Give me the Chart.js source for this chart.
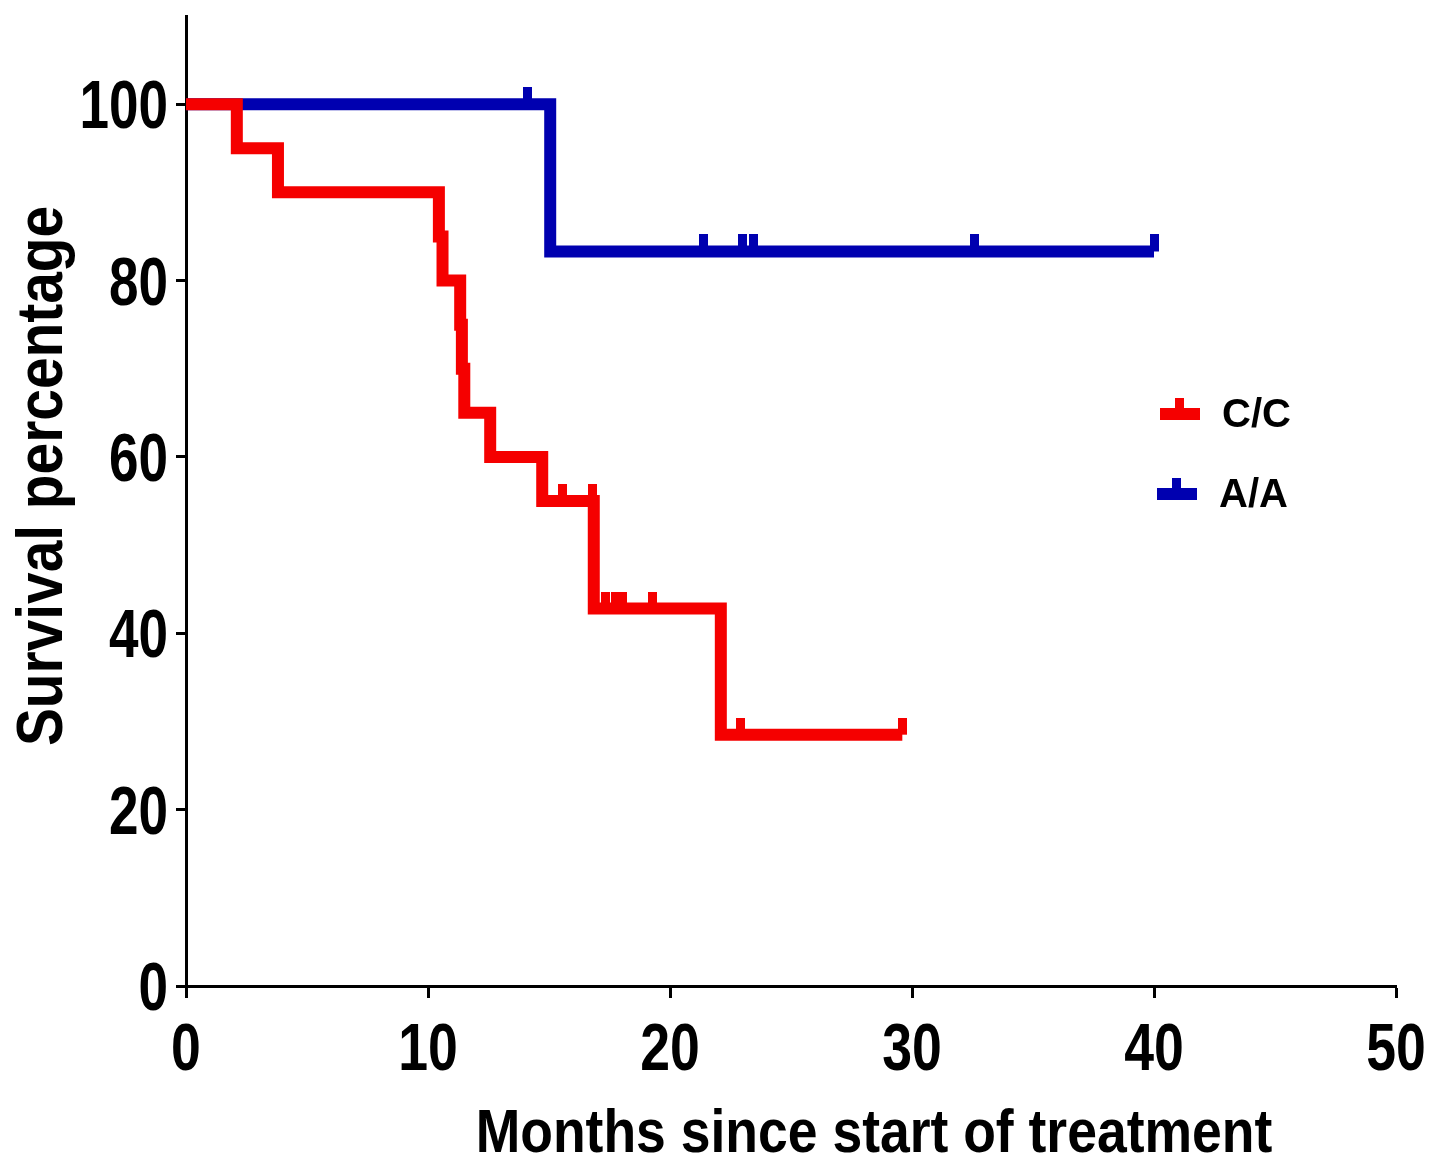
<!DOCTYPE html>
<html>
<head>
<meta charset="utf-8">
<script src="https://cdn.jsdelivr.net/npm/chart.js@4"></script>
<style>
    body { margin: 0; background: #fff; }
    canvas { display: block; }
</style>
</head>
<body>
<canvas id="survivalChart" width="1435" height="1161"></canvas>
<script>
// Kaplan-Meier steps (time in months, survival %)
const ccTime = [0, 2.1, 3.8, 10.45, 10.6, 11.33, 11.4, 11.5, 12.57, 14.72, 16.85, 22.1, 29.6];
const ccSurv = [100, 95, 90, 85, 80, 75, 70, 65, 60, 55, 42.8, 28.5, 28.5];
const ccCensorTime = [15.57, 16.8, 17.35, 17.75, 18.05, 19.27, 22.9, 29.6];
const ccCensorSurv = [55, 55, 42.8, 42.8, 42.8, 42.8, 28.5, 28.5];

const aaTime = [0, 15.05, 40.0];
const aaSurv = [100, 83.3, 83.3];
const aaCensorTime = [14.1, 21.4, 23.0, 23.45, 32.6, 40.0];
const aaCensorSurv = [100, 83.3, 83.3, 83.3, 83.3, 83.3];

const xTicks = [0, 10, 20, 30, 40, 50];
const yTicks = [0, 20, 40, 60, 80, 100];

const RED = '#f50000';
const BLUE = '#0000b0';
const FONT = "'Liberation Sans', Arial, sans-serif";

function toPoints(xs, ys) {
    return xs.map((x, i) => ({ x: x, y: ys[i] }));
}

// small vertical tick that sits on top of the line
function censorMark(color) {
    const c = document.createElement('canvas');
    c.width = 9;
    c.height = 34;
    const g = c.getContext('2d');
    g.fillStyle = color;
    g.fillRect(0, 0, 9, 17);
    return c;
}

// the original uses a condensed bold face, so squeeze the text horizontally
function narrowText(ctx, text, x, y, size, squeeze, align, angle) {
    ctx.save();
    ctx.translate(x, y);
    if (angle) ctx.rotate(angle);
    ctx.scale(squeeze, 1);
    ctx.font = 'bold ' + size + 'px ' + FONT;
    ctx.textAlign = align;
    ctx.textBaseline = 'alphabetic';
    ctx.fillText(text, 0, 0);
    ctx.restore();
}

const extras = {
    id: 'extras',
    afterDraw(chart) {
        const ctx = chart.ctx;
        const xs = chart.scales.x;
        const ys = chart.scales.y;
        ctx.save();
        ctx.fillStyle = '#000';

        // tick labels
        xTicks.forEach(v => {
            narrowText(ctx, String(v), xs.getPixelForValue(v), 1070, 67, 0.8, 'center');
        });
        yTicks.forEach(v => {
            narrowText(ctx, String(v), 168, ys.getPixelForValue(v) + 24, 68, 0.78, 'right');
        });

        // axis titles
        narrowText(ctx, 'Months since start of treatment', 874, 1152, 61, 0.877, 'center');
        narrowText(ctx, 'Survival percentage', 62, 476, 64, 0.888, 'center', -Math.PI / 2);

        // legend
        const items = [
            { label: 'C/C', color: RED, x: 1160, y: 414, tx: 1222 },
            { label: 'A/A', color: BLUE, x: 1157, y: 494, tx: 1219 }
        ];
        ctx.font = 'bold 40px ' + FONT;
        ctx.textAlign = 'left';
        ctx.textBaseline = 'middle';
        items.forEach(it => {
            ctx.fillStyle = it.color;
            ctx.fillRect(it.x, it.y - 6, 40, 12);
            ctx.fillRect(it.x + 15, it.y - 16, 9, 10);
            ctx.fillStyle = '#000';
            ctx.fillText(it.label, it.tx, it.y + 2);
        });
        ctx.restore();
    }
};

function noPadding(s) {
    s.paddingTop = 0;
    s.paddingBottom = 0;
    s.paddingLeft = 0;
    s.paddingRight = 0;
}

new Chart(document.getElementById('survivalChart'), {
    type: 'line',
    data: {
        datasets: [
            {
                label: 'C/C',
                data: toPoints(ccTime, ccSurv),
                stepped: true,
                borderColor: RED,
                borderWidth: 12,
                borderJoinStyle: 'miter',
                borderCapStyle: 'butt',
                pointRadius: 0,
                fill: false
            },
            {
                label: 'C/C censored',
                type: 'scatter',
                data: toPoints(ccCensorTime, ccCensorSurv),
                pointStyle: censorMark(RED),
                pointRadius: 5
            },
            {
                label: 'A/A',
                data: toPoints(aaTime, aaSurv),
                stepped: true,
                borderColor: BLUE,
                borderWidth: 12,
                borderJoinStyle: 'miter',
                borderCapStyle: 'butt',
                pointRadius: 0,
                fill: false
            },
            {
                label: 'A/A censored',
                type: 'scatter',
                data: toPoints(aaCensorTime, aaCensorSurv),
                pointStyle: censorMark(BLUE),
                pointRadius: 5
            }
        ]
    },
    options: {
        responsive: false,
        animation: false,
        devicePixelRatio: 1,
        layout: { padding: { top: 16, right: 39, left: 0, bottom: 0 } },
        plugins: {
            legend: { display: false },
            tooltip: { enabled: false }
        },
        scales: {
            x: {
                type: 'linear',
                min: 0,
                max: 50,
                afterFit: s => { s.height = 175; noPadding(s); },
                afterBuildTicks: s => { s.ticks = xTicks.map(v => ({ value: v })); },
                grid: { drawOnChartArea: false, tickLength: 12, tickWidth: 3, tickColor: '#000' },
                border: { color: '#000', width: 3 },
                ticks: { display: false }
            },
            y: {
                type: 'linear',
                min: 0,
                max: 110,
                afterFit: s => { s.width = 186; noPadding(s); },
                afterBuildTicks: s => { s.ticks = yTicks.map(v => ({ value: v })); },
                grid: { drawOnChartArea: false, tickLength: 10, tickWidth: 3, tickColor: '#000' },
                border: { color: '#000', width: 3 },
                ticks: { display: false }
            }
        }
    },
    plugins: [extras]
});
</script>
</body>
</html>
